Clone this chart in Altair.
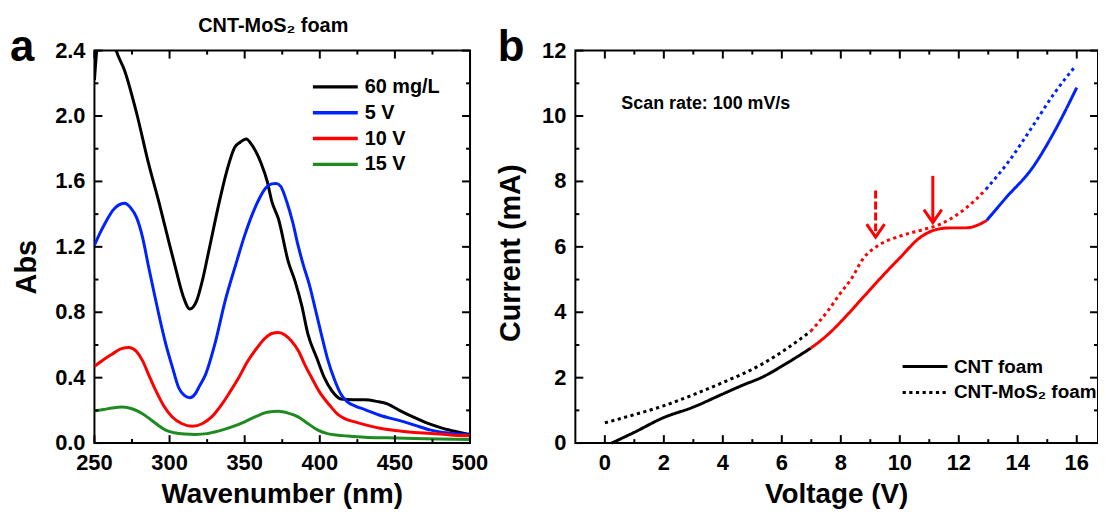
import altair as alt
import pandas as pd

FONT = "Liberation Sans"

# ---------------- Panel a: UV-vis absorbance ----------------
SERIES_A = ["60 mg/L", "5 V", "10 V", "15 V"]
COLORS_A = ["#000000", "#0022ff", "#ff0000", "#1f8a1f"]

wl_60 = [250, 252, 255, 258, 261, 264.5, 270, 278, 286, 293, 299, 304, 309, 313.5, 318, 322, 326,
         333, 338, 343.5, 347, 351, 355, 361, 365, 368, 372.5, 379, 383.5, 388, 392, 398, 403, 408,
         414, 422, 430, 438, 445, 453, 462, 472, 482, 491, 500]
ab_60 = [2.22, 2.45, 2.58, 2.6, 2.52, 2.4, 2.28, 2.02, 1.71, 1.47, 1.25, 1.07, 0.90, 0.82, 0.87, 1.0, 1.17,
         1.47, 1.66, 1.81, 1.84, 1.86, 1.82, 1.71, 1.6, 1.48, 1.37, 1.11, 0.99, 0.84, 0.67, 0.52, 0.40, 0.32,
         0.27, 0.265, 0.265, 0.255, 0.24, 0.20, 0.16, 0.12, 0.09, 0.07, 0.053]

wl_5 = [250, 254, 258, 262, 266, 270, 274, 278, 282, 286, 289, 293, 297.5, 302, 306, 310, 313.5, 317,
        320, 324, 330, 337, 344, 350, 356, 360, 364, 368, 371, 374, 378, 382, 385.5, 389, 393, 397, 401,
        405, 410, 414, 418, 424, 430, 440, 452, 463, 474, 487, 500]
ab_5 = [1.21, 1.29, 1.36, 1.42, 1.455, 1.466, 1.44, 1.38, 1.26, 1.08, 0.95, 0.78, 0.605, 0.46, 0.34, 0.29,
        0.277, 0.30, 0.35, 0.42, 0.60, 0.87, 1.09, 1.27, 1.42, 1.50, 1.56, 1.585, 1.588, 1.57, 1.476, 1.35,
        1.21, 1.09, 0.97, 0.82, 0.666, 0.52, 0.383, 0.30, 0.255, 0.225, 0.205, 0.17, 0.14, 0.11, 0.079,
        0.06, 0.049]

wl_10 = [250, 256, 262, 268, 273, 278, 282, 286, 290.8, 296, 301.8, 308, 315, 322, 328, 335, 340, 346,
         352, 358, 364, 368, 372.4, 377, 381, 386, 390, 394.4, 400, 407.6, 412, 416.5, 425, 433, 441, 452,
         463, 474, 487, 500]
ab_10 = [0.47, 0.51, 0.545, 0.578, 0.585, 0.56, 0.504, 0.42, 0.322, 0.23, 0.16, 0.12, 0.103, 0.12, 0.16,
         0.24, 0.31, 0.40, 0.50, 0.58, 0.645, 0.67, 0.676, 0.66, 0.626, 0.56, 0.48, 0.403, 0.31, 0.22, 0.175,
         0.15, 0.125, 0.105, 0.089, 0.075, 0.065, 0.059, 0.05, 0.045]

wl_15 = [250, 256, 262, 268.7, 275, 282, 288, 293, 297.4, 303, 310, 317.3, 325, 333, 341.5, 350, 358,
         365, 372.4, 379, 385.6, 392, 398.8, 405, 412, 418.6, 430, 445, 462.7, 480, 500]
ab_15 = [0.196, 0.205, 0.215, 0.22, 0.21, 0.18, 0.14, 0.105, 0.079, 0.063, 0.055, 0.053, 0.058, 0.075,
         0.099, 0.13, 0.165, 0.188, 0.194, 0.183, 0.16, 0.12, 0.079, 0.058, 0.048, 0.043, 0.036, 0.032,
         0.028, 0.025, 0.022]

WL_MAJOR = [250, 300, 350, 400, 450, 500]
WL_LABELS = ["250", "300", "350", "400", "450", "500"]
WL_MINOR = [275, 325, 375, 425, 475]
ABS_MAJOR = [0, 0.4, 0.8, 1.2, 1.6, 2.0, 2.4]
ABS_LABELS = ["0.0", "0.4", "0.8", "1.2", "1.6", "2.0", "2.4"]
ABS_MINOR = [0.2, 0.6, 1.0, 1.4, 1.8, 2.2]

# ---------------- Panel b: I-V curves ----------------
SERIES_B = ["CNT foam", "CNT-MoS\u2082 foam"]

cnt_black_v = [0.23, 1.0, 1.97, 3.0, 3.97, 4.7, 5.3, 6.2, 6.98]
cnt_black_i = [0.0, 0.33, 0.77, 1.10, 1.49, 1.78, 2.0, 2.46, 2.9]
cnt_red_v = [6.98, 7.6, 8.23, 8.9, 9.57, 10.01, 10.68, 11.24, 11.69, 12.25, 12.7, 12.95]
cnt_red_i = [2.9, 3.35, 3.93, 4.6, 5.26, 5.67, 6.28, 6.53, 6.58, 6.58, 6.69, 6.81]
cnt_blue_v = [12.95, 13.6, 14.5, 15.25, 16.0]
cnt_blue_i = [6.81, 7.5, 8.42, 9.54, 10.87]

mos_black_v = [0.0, 1.0, 1.96, 3.0, 3.97, 5.3, 6.2, 6.98]
mos_black_i = [0.62, 0.87, 1.13, 1.48, 1.84, 2.4, 2.91, 3.42]
mos_red_v = [6.98, 7.56, 8.0, 8.34, 8.78, 9.23, 10.01, 10.8, 11.36, 12.03, 12.58, 12.92]
mos_red_i = [3.42, 4.04, 4.6, 5.0, 5.67, 6.02, 6.33, 6.53, 6.69, 7.04, 7.45, 7.76]
mos_blue_v = [12.92, 13.7, 14.47, 15.25, 15.93]
mos_blue_i = [7.76, 8.62, 9.64, 10.71, 11.5]

SEG_COLORS = {"black": "#000000", "red": "#ff0000", "blue": "#0022ff"}

arrow_v = [11.12, 9.18]
arrow_top = [8.17, 7.72]
arrow_tip = [6.74, 6.30]
arrow_style = ["solid", "dashed"]

V_MAJOR = [0, 2, 4, 6, 8, 10, 12, 14, 16]
V_LABELS = ["0", "2", "4", "6", "8", "10", "12", "14", "16"]
V_MINOR = [1, 3, 5, 7, 9, 11, 13, 15]
I_MAJOR = [0, 2, 4, 6, 8, 10, 12]
I_LABELS = ["0", "2", "4", "6", "8", "10", "12"]
I_MINOR = [1, 3, 5, 7, 9, 11]

# ---------------- build tables ----------------
rows = []
for name, wl, ab in zip(SERIES_A, [wl_60, wl_5, wl_10, wl_15], [ab_60, ab_5, ab_10, ab_15]):
    for k, (w, a) in enumerate(zip(wl, ab)):
        rows.append({"series": name, "wl": w, "abs": a, "k": k})
df_a = pd.DataFrame(rows)

rows = []
segs = [
    (SERIES_B[0], "black", cnt_black_v, cnt_black_i),
    (SERIES_B[0], "red", cnt_red_v, cnt_red_i),
    (SERIES_B[0], "blue", cnt_blue_v, cnt_blue_i),
    (SERIES_B[1], "black", mos_black_v, mos_black_i),
    (SERIES_B[1], "red", mos_red_v, mos_red_i),
    (SERIES_B[1], "blue", mos_blue_v, mos_blue_i),
]
for s, (name, col, vv, ii) in enumerate(segs):
    for k, (v, i) in enumerate(zip(vv, ii)):
        rows.append({"series": name, "seg": f"{s}", "col": SEG_COLORS[col], "v": v, "i": i, "k": k})
df_b = pd.DataFrame(rows)

df_arrow = pd.DataFrame({"v": arrow_v, "top": arrow_top, "tip": arrow_tip, "style": arrow_style})

# ---------------- geometry ----------------
W_A, H_A = 378, 395
W_B, H_B = 526, 395
GAP = 106
MAJ_LEN, MIN_LEN = 8, 4

x_scale_a = alt.Scale(domain=[250, 500], nice=False, zero=False)
y_scale_a = alt.Scale(domain=[0, 2.4], nice=False)
x_scale_b = alt.Scale(domain=[-1, 16.72], nice=False, zero=False)
y_scale_b = alt.Scale(domain=[0, 12], nice=False)


def frame_ticks(xs, ys, xmaj, xmin, ymaj, ymin, W, H):
    """Inward-pointing tick marks on all four sides of a plot frame."""
    out = []
    for vals, ln in [(xmaj, MAJ_LEN), (xmin, MIN_LEN)]:
        d = pd.DataFrame({"t": vals})
        for y0, y1 in [(H, H - ln), (0, ln)]:
            out.append(alt.Chart(d).mark_rule(color="black", strokeWidth=2).encode(
                x=alt.X("t:Q", scale=xs, axis=None), y=alt.value(y0), y2=alt.value(y1)))
    for vals, ln in [(ymaj, MAJ_LEN), (ymin, MIN_LEN)]:
        d = pd.DataFrame({"t": vals})
        for x0, x1 in [(0, ln), (W, W - ln)]:
            out.append(alt.Chart(d).mark_rule(color="black", strokeWidth=2).encode(
                y=alt.Y("t:Q", scale=ys, axis=None), x=alt.value(x0), x2=alt.value(x1)))
    return out


def axis_text(xs, ys, xvals, xlabs, yvals, ylabs, W, H, xtitle, ytitle, ytitle_x, ytitle_y):
    """Tick labels and axis titles drawn as text marks placed through the scales."""
    lab_style = dict(fontSize=22, font=FONT, fontWeight="bold", color="black")
    xl = alt.Chart(pd.DataFrame({"t": xvals, "lab": xlabs})).mark_text(
        align="center", baseline="top", **lab_style
    ).encode(x=alt.X("t:Q", scale=xs, axis=None), y=alt.value(H + 10), text="lab:N")
    yl = alt.Chart(pd.DataFrame({"t": yvals, "lab": ylabs})).mark_text(
        align="right", baseline="middle", **lab_style
    ).encode(y=alt.Y("t:Q", scale=ys, axis=None), x=alt.value(-9), text="lab:N")
    xt = alt.Chart(pd.DataFrame({"t": [xtitle]})).mark_text(
        align="center", baseline="alphabetic", fontSize=28, font=FONT, fontWeight="bold", color="black"
    ).encode(x=alt.value(W / 2), y=alt.value(H + 60), text="t:N")
    yt = alt.Chart(pd.DataFrame({"t": [ytitle]})).mark_text(
        align="center", baseline="alphabetic", angle=270, fontSize=29, font=FONT, fontWeight="bold",
        color="black"
    ).encode(x=alt.value(ytitle_x), y=alt.value(ytitle_y), text="t:N")
    return [xl, yl, xt, yt]


# ---------------- panel a ----------------
lines_a = alt.Chart(df_a).mark_line(strokeWidth=3, interpolate="monotone", clip=True).encode(
    x=alt.X("wl:Q", scale=x_scale_a, axis=None),
    y=alt.Y("abs:Q", scale=y_scale_a, axis=None),
    color=alt.Color("series:N", scale=alt.Scale(domain=SERIES_A, range=COLORS_A), sort=SERIES_A,
                    legend=alt.Legend(title=None, orient="none", legendX=242, legendY=24,
                                      symbolType="M-3.3,0L1,0", symbolSize=441, symbolStrokeWidth=3.5,
                                      labelFontSize=20, labelFont=FONT, labelFontWeight="bold",
                                      labelColor="black", labelOffset=5, rowPadding=3, padding=0,
                                      labelLimit=300)),
    detail="series:N",
    order="k:Q",
)

title_a = alt.Chart(pd.DataFrame({"t": ["CNT-MoS\u2082 foam"]})).mark_text(
    align="center", baseline="alphabetic", fontSize=20, font=FONT, fontWeight="bold", color="black"
).encode(x=alt.value(180), y=alt.value(-19), text="t:N")

letter_a = alt.Chart(pd.DataFrame({"t": ["a"]})).mark_text(
    align="left", baseline="alphabetic", fontSize=44, font=FONT, fontWeight="bold", color="black"
).encode(x=alt.value(-85), y=alt.value(10), text="t:N")

panel_a = alt.layer(
    lines_a,
    *frame_ticks(x_scale_a, y_scale_a, WL_MAJOR, WL_MINOR, ABS_MAJOR, ABS_MINOR, W_A, H_A),
    *axis_text(x_scale_a, y_scale_a, WL_MAJOR, WL_LABELS, ABS_MAJOR, ABS_LABELS, W_A, H_A,
               "Wavenumber (nm)", "Abs", -59, 218),
    title_a, letter_a,
).properties(width=W_A, height=H_A)

# ---------------- panel b ----------------
lines_b = alt.Chart(df_b).mark_line(strokeWidth=3, interpolate="monotone").encode(
    x=alt.X("v:Q", scale=x_scale_b, axis=None),
    y=alt.Y("i:Q", scale=y_scale_b, axis=None),
    color=alt.Color("col:N", scale=None, legend=None),
    strokeDash=alt.StrokeDash("series:N", scale=alt.Scale(domain=SERIES_B, range=[[1, 0], [3.2, 3.5]]),
                              sort=SERIES_B,
                              legend=alt.Legend(title=None, orient="none", legendX=836, legendY=306,
                                                symbolType="M-3.3,0L1,0", symbolSize=441,
                                                symbolStrokeWidth=3, symbolStrokeColor="black",
                                                labelFontSize=19, labelFont=FONT, labelFontWeight="bold",
                                                labelColor="black", labelOffset=5, rowPadding=4,
                                                padding=0, labelLimit=300)),
    detail="seg:N",
    order="k:Q",
)

arrow_solid = alt.Chart(df_arrow).transform_filter("datum.style === 'solid'").mark_rule(
    color="#ff0000", strokeWidth=3
).encode(x=alt.X("v:Q", scale=x_scale_b, axis=None), y=alt.Y("top:Q", scale=y_scale_b, axis=None),
         y2="tip:Q")

arrow_dashed = alt.Chart(df_arrow).transform_filter("datum.style === 'dashed'").mark_rule(
    color="#ff0000", strokeWidth=3, strokeDash=[8, 3]
).encode(x=alt.X("v:Q", scale=x_scale_b, axis=None), y=alt.Y("top:Q", scale=y_scale_b, axis=None),
         y2="tip:Q")

arrow_heads = alt.Chart(df_arrow).mark_point(
    shape="M-1,-1.45L0,0L1,-1.45", size=324, filled=False, stroke="#ff0000", strokeWidth=3, opacity=1
).encode(x=alt.X("v:Q", scale=x_scale_b, axis=None), y=alt.Y("tip:Q", scale=y_scale_b, axis=None))

scan_text = alt.Chart(pd.DataFrame({"t": ["Scan rate: 100 mV/s"]})).mark_text(
    align="left", baseline="alphabetic", fontSize=18, font=FONT, fontWeight="bold", color="black"
).encode(x=alt.XDatum(0.56, scale=x_scale_b, axis=None), y=alt.YDatum(10.2, scale=y_scale_b, axis=None),
         text="t:N")

letter_b = alt.Chart(pd.DataFrame({"t": ["b"]})).mark_text(
    align="left", baseline="alphabetic", fontSize=44, font=FONT, fontWeight="bold", color="black"
).encode(x=alt.value(-78), y=alt.value(10), text="t:N")

panel_b = alt.layer(
    lines_b,
    *frame_ticks(x_scale_b, y_scale_b, V_MAJOR, V_MINOR, I_MAJOR, I_MINOR, W_B, H_B),
    *axis_text(x_scale_b, y_scale_b, V_MAJOR, V_LABELS, I_MAJOR, I_LABELS, W_B, H_B,
               "Voltage (V)", "Current (mA)", -56, 204),
    arrow_solid, arrow_dashed, arrow_heads, scan_text, letter_b,
).properties(width=W_B, height=H_B)

chart = alt.hconcat(panel_a, panel_b, spacing=GAP, bounds="flush").properties(
    autosize=alt.AutoSizeParams(type="none"),
    padding={"left": 87, "top": 40, "right": W_A + GAP + W_B, "bottom": H_A + 67},
).configure_view(stroke="black", strokeWidth=2).configure_legend(symbolFillColor="transparent")

chart.save("out.html", embed_options={"renderer": "svg", "actions": False})
